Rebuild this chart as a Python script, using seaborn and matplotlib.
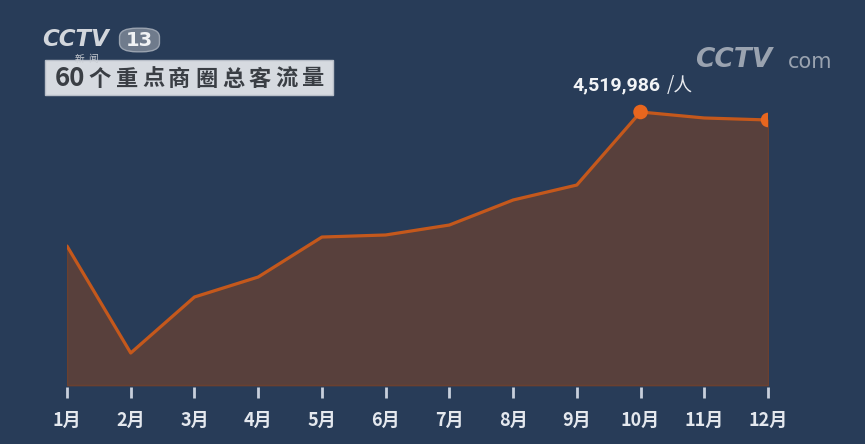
import matplotlib
matplotlib.use("Agg")
import matplotlib.pyplot as plt
from matplotlib.patches import FancyBboxPatch, Rectangle
import seaborn as sns
import pandas as pd
import numpy as np

# ---- data ----
months = ["1月", "2月", "3月", "4月", "5月", "6月", "7月", "8月", "9月", "10月", "11月", "12月"]
visitors = [2301000, 530000, 1457000, 1788000, 2450000, 2484000,
            2649000, 3063000, 3311000, 4519986, 4421000, 4388000]
highlight_months = ["10月", "12月"]
title_text = "60个重点商圈总客流量"
peak_label = "4,519,986"
unit_label = "/人"

BG = "#283c58"
FILL = "#58403c"
LINE = "#c4581c"
DOT = "#e8661e"
TICK = "#c8d0dc"

sns.set_theme(style="white")
plt.rcParams["font.family"] = ["Noto Sans CJK SC", "DejaVu Sans"]

df = pd.DataFrame({"idx": np.arange(len(months)), "month": months, "value": visitors})
hl = df[df["month"].isin(highlight_months)]

fig = plt.figure(figsize=(8.65, 4.44), dpi=100, facecolor=BG)
ax = fig.add_axes([67 / 865, (444 - 387) / 444, (768 - 67) / 865, 327 / 444])
ax.set_facecolor(BG)

ax.fill_between(df["idx"], 0, df["value"], color=FILL, lw=1.2, edgecolor="#6a4030", zorder=1)
sns.lineplot(data=df, x="idx", y="value", ax=ax, color=LINE, lw=2.3, zorder=3)
sns.scatterplot(data=hl, x="idx", y="value", ax=ax, color=DOT, s=110, edgecolor="none", zorder=4)

ax.set_xlim(0, len(months) - 1)
ax.set_ylim(-33000, 5381000)
ax.set_xticks(df["idx"])
ax.set_xticklabels(months, color="#e4e8ee", fontsize=13, fontweight="bold")
ax.set_yticks([])
ax.set_xlabel("")
ax.set_ylabel("")
ax.tick_params(axis="x", length=8, width=2, color=TICK, pad=9, bottom=True)
for s in ax.spines.values():
    s.set_visible(False)

# peak annotation
peak = df.loc[df["value"].idxmax()]
ax.annotate(peak_label, xy=(peak["idx"], peak["value"]), xytext=(-68, 27),
            textcoords="offset pixels", color="#f2f4f6", fontsize=14,
            fontweight="bold", fontfamily=["Roboto", "DejaVu Sans"], va="center", ha="left")
ax.annotate(unit_label, xy=(peak["idx"], peak["value"]), xytext=(26, 27),
            textcoords="offset pixels", color="#e6e9ee", fontsize=13.5,
            va="center", ha="left")

# title box
fig.patches.append(Rectangle((45 / 865, 1 - 95 / 444), (333 - 45) / 865, 35 / 444,
                             transform=fig.transFigure, facecolor="#d6dae0",
                             edgecolor="#b8bec8", lw=1, zorder=2))
tokens = ["60"] + list(title_text[2:])
xs = [55, 88, 116, 142, 168, 195, 222, 248, 275, 302]
for t, x in zip(tokens, xs):
    fig.text(x / 865, 1 - 79 / 444, t, color="#3a3e44",
             fontsize=18.5 if t == "60" else 16, fontweight="bold",
             va="center", ha="left", zorder=3)

# CCTV 13 logo
fig.text(42 / 865, 1 - 40 / 444, "CCTV", color="#d2d6dc", fontsize=16.5, fontweight="bold",
         fontstyle="italic", va="center", ha="left", fontfamily=["DejaVu Sans"])
fig.patches.append(FancyBboxPatch((123 / 865, 1 - 50 / 444), 33 / 865, 20 / 444,
                                  boxstyle="round,pad=0.004,rounding_size=0.02",
                                  transform=fig.transFigure, facecolor="#6f7b8c",
                                  edgecolor="#9aa3b0", lw=1))
fig.text(139 / 865, 1 - 40 / 444, "13", color="#f0f2f4", fontsize=14, fontweight="bold",
         va="center", ha="center", fontfamily=["DejaVu Sans"])
fig.text(75 / 865, 1 - 59 / 444, "新  闻", color="#c8ccd2", fontsize=7, va="center",
         ha="left", zorder=4)

# CCTV.com logo
fig.text(695 / 865, 1 - 60 / 444, "CCTV", color="#9aa3b0", fontsize=19, fontweight="bold",
         fontstyle="italic", va="center", ha="left", fontfamily=["DejaVu Sans"])
fig.text(788 / 865, 1 - 62 / 444, "com", color="#9aa3b0", fontsize=15, va="center",
         ha="left", fontfamily=["DejaVu Sans"])

fig.savefig("out.png", dpi=100, facecolor=BG)
